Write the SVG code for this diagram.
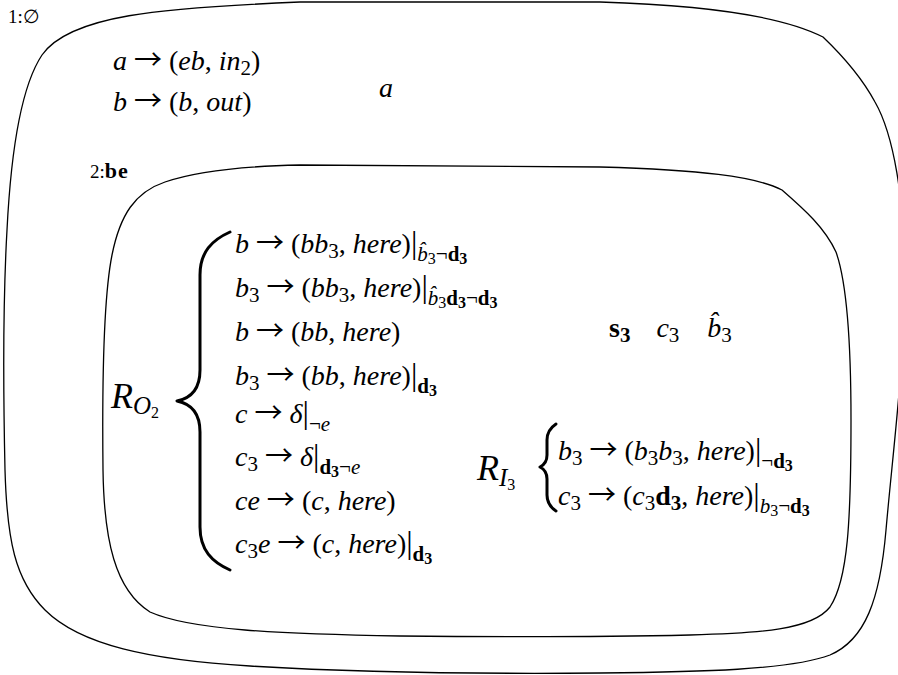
<svg xmlns="http://www.w3.org/2000/svg" width="898" height="675" viewBox="0 0 898 675">
<style>
  .t { font-family: "Liberation Serif", "DejaVu Serif", serif; font-size: 28px; fill: #000; }
  .lbl { font-family: "Liberation Serif", "DejaVu Serif", serif; font-size: 19px; fill: #000; }
  .i { font-style: italic; }
  .b { font-weight: bold; }
  .s { font-size: 21px; }
  .ss { font-size: 16px; }
  .ar { font-family: "Noto Sans CJK JP", "DejaVu Sans", sans-serif; font-size: 28px; font-style: normal; }
  .bar { font-size: 32px; }
  .big { font-size: 36px; }
  .sb { font-size: 25px; }
  .region { fill: none; stroke: #000; stroke-width: 1.3; stroke-linejoin: round; }
  .brace { fill: none; stroke: #000; stroke-width: 3; stroke-linecap: round; stroke-linejoin: round; }
</style>

<g id="region1">
  <path class="region" d="M 300,2 L 600,2 C 700,5 780,15 823,37 C 845,58 862,78 875,102 C 894,135 904,200 905,270 C 905,360 893,450 886,530 C 880,600 865,640 830,655 C 790,670 700,672 600,673 C 480,674 350,672 250,666 C 150,660 80,645 45,610 C 15,580 7,540 5,470 C 3,380 3,300 7,230 C 11,150 22,85 42,55 C 70,15 160,8 300,2 Z"/>
  <text class="lbl" x="8" y="23">1:∅</text>
  <text class="t" x="113" y="70"><tspan class="i">a</tspan> <tspan class="ar">→</tspan> (<tspan class="i">eb</tspan>, <tspan class="i">in</tspan><tspan class="s" dy="5">2</tspan><tspan dy="-5">)</tspan></text>
  <text class="t" x="113" y="111"><tspan class="i">b</tspan> <tspan class="ar">→</tspan> (<tspan class="i">b</tspan>, <tspan class="i">out</tspan>)</text>
  <text class="t i" x="379" y="97">a</text>
</g>

<g id="region2">
  <path class="region" d="M 300,165 L 600,167 C 700,170 755,176 782,190 C 805,210 825,228 836,252 C 846,280 851,340 851,420 C 851,520 848,580 830,607 C 812,630 760,633 690,635 C 600,637 500,637 400,636 C 280,634 190,630 150,612 C 115,590 104,540 103,470 C 102,380 103,300 112,255 C 120,215 135,192 165,182 C 200,170 250,166 300,165 Z"/>
  <text class="lbl" x="90" y="178">2:<tspan class="b" font-size="22" letter-spacing="1">be</tspan></text>

  <g id="RO2">
    <text class="t" x="111" y="408"><tspan class="i big">R</tspan><tspan class="i sb" dy="6">O</tspan><tspan class="ss" dy="4">2</tspan></text>
    <path class="brace" d="M 230,232 C 212,240 200,252 200,275 L 200,370 C 200,388 192,398 177,401 C 192,404 200,414 200,432 L 200,527 C 200,550 212,562 230,570"/>
    <text class="t" x="235" y="253"><tspan class="i">b</tspan> <tspan class="ar">→</tspan> (<tspan class="i">bb</tspan><tspan class="s" dy="5">3</tspan><tspan dy="-5">, </tspan><tspan class="i">here</tspan>)<tspan class="bar">|</tspan><tspan class="s i" dy="8">b̂</tspan><tspan class="ss" dy="3">3</tspan><tspan class="s" dy="-3">¬</tspan><tspan class="s b">d</tspan><tspan class="ss b" dy="3">3</tspan></text>
    <text class="t" x="235" y="297"><tspan class="i">b</tspan><tspan class="s" dy="5">3</tspan><tspan dy="-5"> </tspan><tspan class="ar">→</tspan> (<tspan class="i">bb</tspan><tspan class="s" dy="5">3</tspan><tspan dy="-5">, </tspan><tspan class="i">here</tspan>)<tspan class="bar">|</tspan><tspan class="s i" dy="8">b̂</tspan><tspan class="ss" dy="3">3</tspan><tspan class="s b" dy="-3">d</tspan><tspan class="ss b" dy="3">3</tspan><tspan class="s" dy="-3">¬</tspan><tspan class="s b">d</tspan><tspan class="ss b" dy="3">3</tspan></text>
    <text class="t" x="235" y="341"><tspan class="i">b</tspan> <tspan class="ar">→</tspan> (<tspan class="i">bb</tspan>, <tspan class="i">here</tspan>)</text>
    <text class="t" x="235" y="385"><tspan class="i">b</tspan><tspan class="s" dy="5">3</tspan><tspan dy="-5"> </tspan><tspan class="ar">→</tspan> (<tspan class="i">bb</tspan>, <tspan class="i">here</tspan>)<tspan class="bar">|</tspan><tspan class="s b" dy="8">d</tspan><tspan class="ss b" dy="3">3</tspan></text>
    <text class="t" x="235" y="423"><tspan class="i">c</tspan> <tspan class="ar">→</tspan> <tspan class="i">δ</tspan><tspan class="bar">|</tspan><tspan class="s" dy="8">¬</tspan><tspan class="s i">e</tspan></text>
    <text class="t" x="235" y="466"><tspan class="i">c</tspan><tspan class="s" dy="5">3</tspan><tspan dy="-5"> </tspan><tspan class="ar">→</tspan> <tspan class="i">δ</tspan><tspan class="bar">|</tspan><tspan class="s b" dy="8">d</tspan><tspan class="ss b" dy="3">3</tspan><tspan class="s" dy="-3">¬</tspan><tspan class="s i">e</tspan></text>
    <text class="t" x="235" y="510"><tspan class="i">ce</tspan> <tspan class="ar">→</tspan> (<tspan class="i">c</tspan>, <tspan class="i">here</tspan>)</text>
    <text class="t" x="235" y="553"><tspan class="i">c</tspan><tspan class="s" dy="5">3</tspan><tspan class="i" dy="-5">e</tspan> <tspan class="ar">→</tspan> (<tspan class="i">c</tspan>, <tspan class="i">here</tspan>)<tspan class="bar">|</tspan><tspan class="s b" dy="8">d</tspan><tspan class="ss b" dy="3">3</tspan></text>
  </g>

  <g id="objects3">
    <text class="t" x="609" y="337"><tspan class="b">s</tspan><tspan class="s b" dy="5">3</tspan><tspan class="i" dx="26" dy="-5">c</tspan><tspan class="s" dy="5">3</tspan><tspan class="i" dx="28" dy="-5">b̂</tspan><tspan class="s" dy="5">3</tspan></text>
  </g>

  <g id="RI3">
    <text class="t" x="477" y="480"><tspan class="i big">R</tspan><tspan class="i sb" dy="6">I</tspan><tspan class="ss" dy="4">3</tspan></text>
    <path class="brace" d="M 556,424 C 550,428 547,433 547,440 L 547,455 C 547,461 544,465 540,467 C 544,469 547,473 547,479 L 547,495 C 547,502 550,507 556,511"/>
    <text class="t" x="558" y="460"><tspan class="i">b</tspan><tspan class="s" dy="5">3</tspan><tspan dy="-5"> </tspan><tspan class="ar">→</tspan> (<tspan class="i">b</tspan><tspan class="s" dy="5">3</tspan><tspan class="i" dy="-5">b</tspan><tspan class="s" dy="5">3</tspan><tspan dy="-5">, </tspan><tspan class="i">here</tspan>)<tspan class="bar">|</tspan><tspan class="s" dy="8">¬</tspan><tspan class="s b">d</tspan><tspan class="ss b" dy="3">3</tspan></text>
    <text class="t" x="558" y="505"><tspan class="i">c</tspan><tspan class="s" dy="5">3</tspan><tspan dy="-5"> </tspan><tspan class="ar">→</tspan> (<tspan class="i">c</tspan><tspan class="s" dy="5">3</tspan><tspan class="b" dy="-5">d</tspan><tspan class="s b" dy="5">3</tspan><tspan dy="-5">, </tspan><tspan class="i">here</tspan>)<tspan class="bar">|</tspan><tspan class="s i" dy="8">b</tspan><tspan class="ss" dy="3">3</tspan><tspan class="s" dy="-3">¬</tspan><tspan class="s b">d</tspan><tspan class="ss b" dy="3">3</tspan></text>
  </g>
</g>
</svg>
